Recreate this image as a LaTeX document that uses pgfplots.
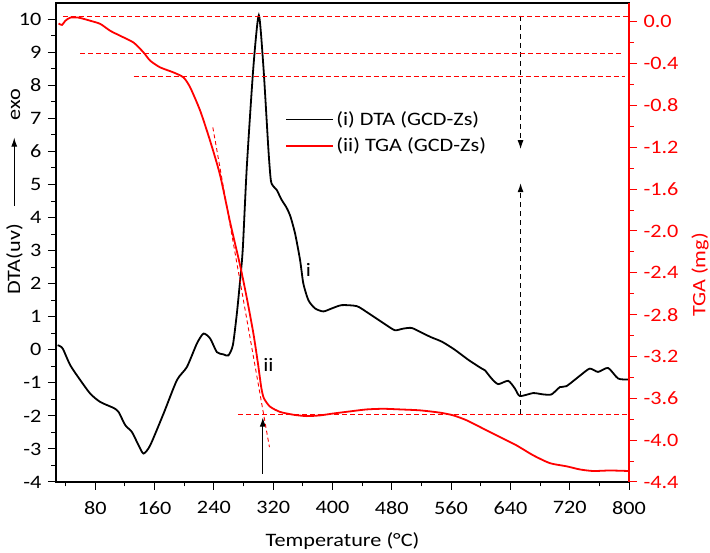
\documentclass[border=0pt]{standalone}
\usepackage{pgfplots}
\pgfplotsset{compat=1.18}
\usepackage{fontspec}
\setmainfont{Carlito}[FakeStretch=1.17]
\usetikzlibrary{arrows.meta}

\pgfplotstableread{
x y
29.2 0.14
33.0 0.10
36.5 0.02
46.3 -0.47
59.8 -0.92
73.3 -1.33
86.7 -1.58
104.7 -1.76
111.4 -1.88
120.4 -2.28
129.5 -2.49
138.4 -2.89
145.1 -3.14
154.1 -2.89
172.1 -1.93
190.1 -0.92
203.6 -0.52
217.1 0.19
226.0 0.49
235.0 0.34
244.0 -0.07
252.9 -0.14
259.6 -0.17
265.6 0.14
271.0 1.10
275.4 2.10
279.0 3.06
284.4 5.53
293.3 8.56
300.6 10.12
306.8 8.56
313.6 6.04
316.8 5.13
320.0 4.95
324.9 4.83
331.0 4.55
338.0 4.30
343.0 4.05
349.5 3.52
356.3 2.71
360.7 2.00
367.5 1.50
376.5 1.25
387.7 1.16
399.0 1.25
412.5 1.35
432.7 1.32
446.2 1.14
459.7 0.94
473.1 0.74
484.3 0.59
495.5 0.64
506.8 0.66
520.0 0.52
533.0 0.38
548.0 0.24
565.0 0.00
583.0 -0.30
600.0 -0.55
605.6 -0.62
614.6 -0.87
623.5 -1.04
637.0 -0.94
646.0 -1.17
652.8 -1.40
670.7 -1.31
684.2 -1.35
695.5 -1.35
706.7 -1.13
715.7 -1.10
734.6 -0.77
747.1 -0.57
758.3 -0.67
771.8 -0.55
785.3 -0.87
798.8 -0.90
}\dta

\pgfplotstableread{
x y
30.5 -0.016
35.1 -0.03
39.6 0.01
46.3 0.04
57.5 0.04
73.3 0.01
86.7 -0.02
100.2 -0.086
113.7 -0.134
131.6 -0.198
145.1 -0.293
154.1 -0.372
167.6 -0.436
185.5 -0.484
199.0 -0.532
208.0 -0.627
221.5 -0.85
235.0 -1.14
248.5 -1.47
262.0 -1.92
275.4 -2.33
284.4 -2.64
293.3 -2.98
299.5 -3.27
304.0 -3.50
307.5 -3.60
315.8 -3.68
329.3 -3.73
347.3 -3.757
365.3 -3.77
383.3 -3.763
401.2 -3.745
423.7 -3.725
446.2 -3.706
468.6 -3.70
491.1 -3.706
518.0 -3.715
545.0 -3.737
563.0 -3.763
580.9 -3.81
603.4 -3.89
625.9 -3.97
648.3 -4.05
670.8 -4.145
693.3 -4.22
715.7 -4.25
733.7 -4.28
751.6 -4.295
774.1 -4.29
800.0 -4.295
}\tga

\begin{document}
\fontsize{19pt}{23pt}\selectfont
\begin{tikzpicture}
\pgfplotsset{
  every axis/.append style={
    scale only axis, width=573pt, height=479pt,
    xmin=27, xmax=800,
    tick align=outside,
    major tick length=8pt, minor tick length=4.5pt,
    /pgf/number format/assume math mode=true,
    every tick/.style={line width=1pt},
    every minor tick/.style={line width=1pt},
  },
}
\begin{axis}[
  name=left,
  ymin=-4, ymax=10.49,
  axis line style={line width=1.2pt},
  xtick pos=bottom, ytick pos=left,
  xtick={80,160,...,800},
  minor xtick={40,120,...,760},
  ytick={-4,-3,...,10},
  minor ytick={-3.5,-2.5,...,9.5},
  xticklabel style={yshift=-5pt},
  xlabel={Temperature (°C)},
  xlabel style={yshift=-5pt},
  ylabel={DTA(uv)\hspace{18pt}\raisebox{0.32ex}{\tikz\draw[-{Latex[length=9pt,width=6pt]},line width=0.9pt](0,0)--(68pt,0);}\hspace{17pt}exo},
  ylabel style={at={(axis description cs:-0.0576,0.606)}, anchor=south, inner sep=0pt},
]
\addplot[black, line width=1.8pt, smooth, tension=0.4] table {\dta};
\addplot[black, line width=0.8pt, -{Latex[length=9pt,width=6pt]}] coordinates {(306,-3.75) (306,-2.05)};
\addplot[black, line width=1pt, dash pattern=on 5pt off 4pt, -{Latex[length=9pt,width=6pt]}] coordinates {(653.7,10.1) (653.7,6.07)};
\addplot[black, line width=1pt, dash pattern=on 5pt off 4pt, -{Latex[length=9pt,width=6pt]}] coordinates {(653.7,-1.95) (653.7,5.04)};
\node at (axis cs:367.5,2.41) {i};
\node at (axis cs:313.6,-0.47) {ii};
\end{axis}

\begin{axis}[
  ymin=-4.4, ymax=0.18,
  axis y line*=right, axis x line=none,
  y axis line style={red, line width=1.2pt},
  ytick={-4.4,-4,-3.6,-3.2,-2.8,-2.4,-2,-1.6,-1.2,-0.8,-0.4,0},
  minor ytick={-4.2,-3.8,-3.4,-3.0,-2.6,-2.2,-1.8,-1.4,-1.0,-0.6,-0.2},
  ytick style={red},
  yticklabel style={red, /pgf/number format/fixed, /pgf/number format/fixed zerofill, /pgf/number format/precision=1},
  ylabel={TGA (mg)},
  ylabel style={red, at={(ticklabel cs:0.432)}},
  legend style={at={(rel axis cs:0.395,0.783)}, anchor=north west, draw=none, fill=none,
    row sep=6pt, font=\fontsize{19pt}{23pt}\selectfont},
  legend cell align=left,
  legend image code/.code={\draw[#1] (0pt,0pt) -- (47pt,0pt);},
]
\addplot[red, line width=1pt, dash pattern=on 5pt off 3pt, forget plot] coordinates {(36.9,0.05) (800,0.05)};
\addplot[red, line width=1pt, dash pattern=on 5pt off 3pt, forget plot] coordinates {(59.8,-0.30) (789.8,-0.30)};
\addplot[red, line width=1pt, dash pattern=on 5pt off 3pt, forget plot] coordinates {(131.6,-0.522) (794.3,-0.522)};
\addplot[red, line width=1pt, dash pattern=on 5pt off 3pt, forget plot] coordinates {(273.1,-3.753) (800,-3.753)};
\addplot[red, line width=0.9pt, dash pattern=on 4pt off 3pt, forget plot] coordinates {(238.6,-1.01) (314.9,-4.066)};
\addlegendimage{black, line width=1.8pt}
\addlegendentry{(i) DTA (GCD-Zs)}
\addplot[red, line width=1.8pt, smooth, tension=0.4] table {\tga};
\addlegendentry{(ii) TGA (GCD-Zs)}
\end{axis}
\pgfresetboundingbox
\path ([shift={(-56pt,-71pt)}]left.south west) rectangle ([shift={(81pt,3pt)}]left.north east);
\end{tikzpicture}
\end{document}
